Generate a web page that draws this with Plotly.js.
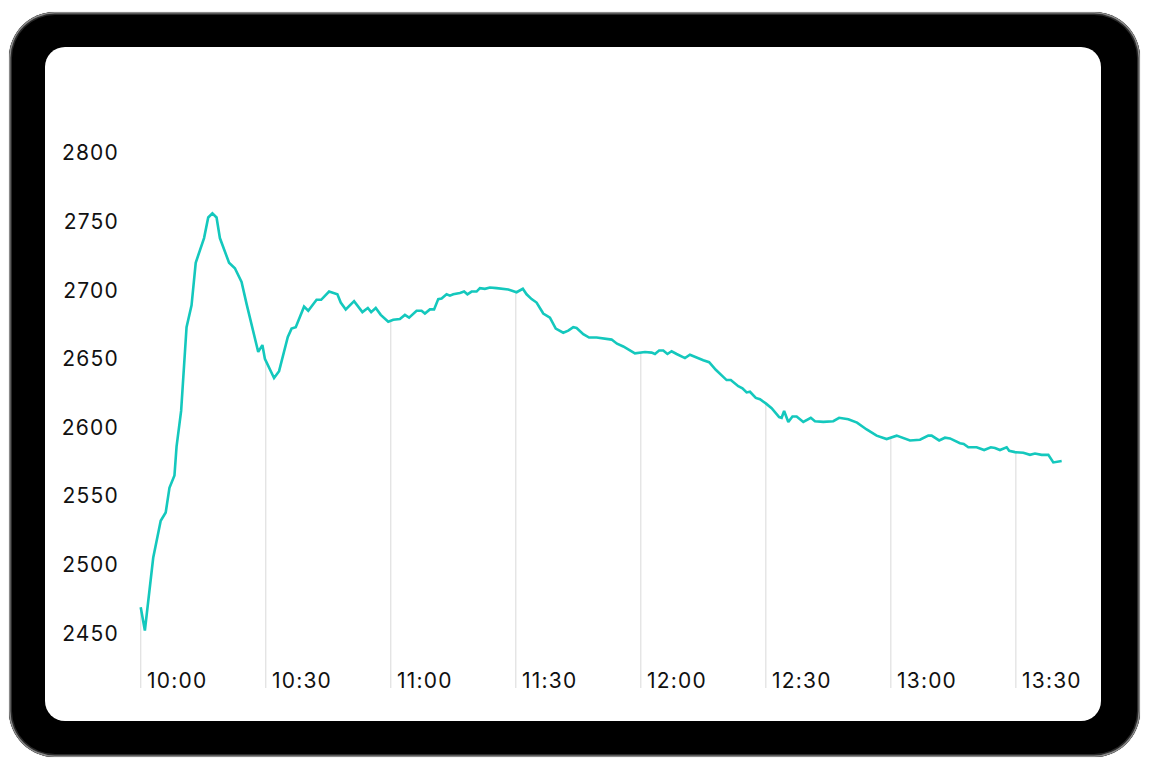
<!DOCTYPE html>
<html>
<head>
<meta charset="utf-8">
<script src="https://cdn.plot.ly/plotly-3.0.1.min.js"></script>
<style>
  html, body { margin:0; padding:0; background:#fff; width:1162px; height:767px; overflow:hidden; }
  #device { position:absolute; left:9px; top:12px; width:1131px; height:745px; border-radius:46px;
            background:#000; box-shadow: inset 0 0 0 1.5px #8a8a8a, inset 0 0 0 3px #2a2a2a, 0 0 1px #999; }
  #screen { position:absolute; left:45px; top:47px; width:1056px; height:674px; border-radius:20px; background:#fff; }
  #chart  { position:absolute; left:0; top:0; width:1162px; height:767px; }
  #chart svg text { letter-spacing: 1.2px; }
</style>
</head>
<body>
<div id="device"></div>
<div id="screen"></div>
<div id="chart"></div>
<script>
// minutes after 10:00
const minutes = [0,1,3,4.8,6,6.9,8.1,8.6,9.7,11,
  12.2,13.2,15.2,16.2,17.2,18.2,19,21.2,22.6,24.2,
  25.4,28.2,29.2,29.8,32,33.2,35.3,36.2,37.2,39.2,
  40.2,42.2,43.3,45.2,47.2,48,49.2,51.2,53.2,54.5,
  55.3,56.4,57.6,59.4,60.6,62.2,63.4,64.4,66.2,67.4,
  68.2,69.4,70.4,71.4,72.2,73.4,74.2,75,76.6,77.6,
  78.4,79.4,80.6,81.4,82.6,83.8,85.4,86.6,88.2,90.2,
  91.7,92.6,93.8,95,96.6,98.2,99.6,101.4,102.6,103.8,
  104.6,106.2,107.6,109.4,110.6,113,114.3,115.8,118.6,121,
  122.6,123.4,124.4,125.4,126.4,127.4,128.6,130.6,131.8,133.2,
  135,136.4,138,140.6,141.6,143.4,144.4,145.4,146.2,147.6,
  148.6,150,151.4,153.2,153.8,154.4,155.4,156.4,157.4,159,
  160.8,161.8,163.8,166.2,167.6,169.8,171,171.9,174.2,176.6,
  179,181.4,184.6,187,189,189.8,191.6,193,194.2,196.6,
  197.5,198.6,200.6,202.4,204,205,206.2,207.8,208.4,209.8,
  211.8,213.4,214.6,216.2,217.8,219,221];

const prices = [2469,2452,2505,2532,2538,2556,2565,2586,2612,2673,
  2689,2720,2738,2753,2756,2753,2738,2720,2716,2706,
  2690,2655,2660,2650,2636,2641,2666,2672,2673,2688,
  2685,2693,2693,2699,2697,2691,2686,2692,2684,2687,
  2684,2687,2682,2677,2678.5,2679,2682,2680,2685,2685,
  2683,2686,2686,2693.5,2694,2697,2696,2697,2698,2699,
  2697,2699,2699,2701.5,2701,2702,2701.5,2701,2700.5,2698.5,
  2701,2697,2693.5,2691,2683,2680,2672,2669,2670.5,2673,
  2672.5,2668,2665.5,2665.5,2665,2664,2661,2659,2654,2655,
  2654.5,2653.5,2656,2656,2653.5,2655.5,2653.5,2650.5,2653,2651.5,
  2649,2647.5,2642,2634.5,2634.5,2630,2628.5,2625.5,2626,2621.5,
  2620.5,2617.5,2614,2607.5,2607,2612,2604,2608,2608,2604,
  2607,2604.5,2604,2604.5,2607,2606,2604.5,2603.5,2598.5,2594,
  2591.5,2594,2590.5,2591,2594,2594,2590.5,2592.5,2592,2588.5,
  2588,2585.5,2585.5,2583.5,2585.5,2585,2583.5,2585.5,2583,2582,
  2581.5,2580,2581,2580,2580,2574.5,2575.5];

const tickMinutes = [0,30,60,90,120,150,180,210];
const tickLabels = ['10:00','10:30','11:00','11:30','12:00','12:30','13:00','13:30'];
const yTickValues = [2450,2500,2550,2600,2650,2700,2750,2800];

const xRange = [-2.57, 227.8];
const yRange = [2410.1, 2838.6];
const FONT = 'Inter, "Liberation Sans", Arial, sans-serif';

function valueAt(t) {
  for (let i = 0; i < minutes.length - 1; i++) {
    if (t >= minutes[i] && t <= minutes[i+1]) {
      const f = (t - minutes[i]) / (minutes[i+1] - minutes[i]);
      return prices[i] + f * (prices[i+1] - prices[i]);
    }
  }
  return t < minutes[0] ? prices[0] : prices[prices.length-1];
}

const shapes = tickMinutes.map(t => ({
  type:'line', xref:'x', yref:'y', x0:t, x1:t, y0:yRange[0], y1:valueAt(t),
  line:{color:'#e2e2e2', width:1.3}, layer:'below'
}));

const annotations = tickMinutes.map((t,i) => ({
  x:t, y:0, xref:'x', yref:'paper', text:tickLabels[i], showarrow:false,
  xanchor:'left', yanchor:'bottom', xshift:7, yshift:-7,
  font:{family:FONT, size:21, color:'#111'}
}));

const trace = {
  x: minutes, y: prices, type:'scatter', mode:'lines',
  line:{color:'#14c8bd', width:2.6}, hoverinfo:'skip'
};

const layout = {
  width:1162, height:767,
  margin:{l:130, r:72, t:100, b:79},
  paper_bgcolor:'rgba(0,0,0,0)', plot_bgcolor:'rgba(0,0,0,0)',
  showlegend:false,
  xaxis:{range:xRange, showgrid:false, zeroline:false, showline:false, showticklabels:false, ticks:''},
  yaxis:{range:yRange, showgrid:false, zeroline:false, showline:false, ticks:'',
         tickvals:yTickValues, ticklabelstandoff:10,
         tickfont:{family:FONT, size:21, color:'#111'}},
  shapes: shapes,
  annotations: annotations
};

Plotly.newPlot('chart', [trace], layout, {staticPlot:true, displayModeBar:false});
</script>
</body>
</html>
